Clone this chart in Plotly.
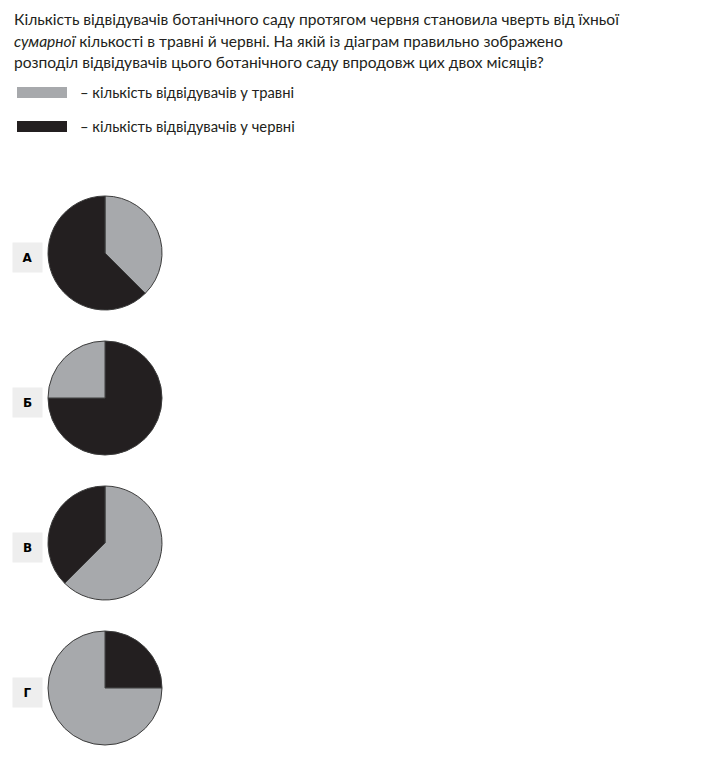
import plotly.graph_objects as go

W, H = 712, 774

# ---- data ----
question_lines = [
    "Кількість відвідувачів ботанічного саду протягом червня становила чверть від їхньої",
    "<i>сумарної</i> кількості в травні й червні. На якій із діаграм правильно зображено",
    "розподіл відвідувачів цього ботанічного саду впродовж цих двох місяців?",
]
legend_labels = ["– кількість відвідувачів у травні", "– кількість відвідувачів у червні"]
option_letters = ["А", "Б", "В", "Г"]
may_share = [37.5, 25.0, 62.5, 75.0]     # % of visitors in May (grey)
june_share = [62.5, 75.0, 37.5, 25.0]    # % of visitors in June (black)
first_slice = ["may", "june", "may", "june"]  # slice that starts at 12 o'clock

GREY = "#a7a9ac"
BLACK = "#231f20"
TEXT = "#231f20"
FONT = "Lato, 'DejaVu Sans', sans-serif"

def px(x):
    return x / W

def py(y):
    return 1 - y / H

fig = go.Figure()

# pies
pie_cx = 105
pie_cy = [253, 398, 543, 688]
R = 57
for i, letter in enumerate(option_letters):
    if first_slice[i] == "may":
        vals = [may_share[i], june_share[i]]
        cols = [GREY, BLACK]
        labs = ["травень", "червень"]
    else:
        vals = [june_share[i], may_share[i]]
        cols = [BLACK, GREY]
        labs = ["червень", "травень"]
    fig.add_trace(go.Pie(
        values=vals, labels=labs, sort=False, direction="clockwise", rotation=0,
        marker=dict(colors=cols, line=dict(color="#3c3c3c", width=1)),
        textinfo="none", hoverinfo="skip", showlegend=False,
        domain=dict(x=[px(pie_cx - R), px(pie_cx + R)],
                    y=[py(pie_cy[i] + R), py(pie_cy[i] - R)]),
    ))
    # letter box
    fig.add_annotation(
        x=px(27.5), y=py(pie_cy[i] + 4), xref="paper", yref="paper",
        text="<b>%s</b>" % letter, showarrow=False, xanchor="center", yanchor="middle",
        width=27, height=27, bgcolor="#eeeeee",
        font=dict(family="'DejaVu Sans', sans-serif", size=12, color="#000000"),
    )

# question text
for j, (line, yy) in enumerate(zip(question_lines, [19, 41, 62])):
    fig.add_annotation(
        x=px(12), y=py(yy), xref="paper", yref="paper", text=line, showarrow=False,
        xanchor="left", yanchor="middle",
        font=dict(family=FONT, size=15.6, color=TEXT),
    )

# legend
leg_cols = [GREY, BLACK]
for j, (lab, yy) in enumerate(zip(legend_labels, [92.5, 126.5])):
    fig.add_shape(type="rect", xref="paper", yref="paper",
                  x0=px(17), x1=px(67), y0=py(yy - 5.5), y1=py(yy + 5.5),
                  fillcolor=leg_cols[j], line=dict(width=0))
    fig.add_annotation(
        x=px(78), y=py(yy - 0.5), xref="paper", yref="paper", text=lab, showarrow=False,
        xanchor="left", yanchor="middle",
        font=dict(family=FONT, size=14.8, color=TEXT),
    )

fig.update_layout(
    width=W, height=H, margin=dict(l=0, r=0, t=0, b=0),
    paper_bgcolor="white", plot_bgcolor="white",
)
fig.write_html("out.html")
